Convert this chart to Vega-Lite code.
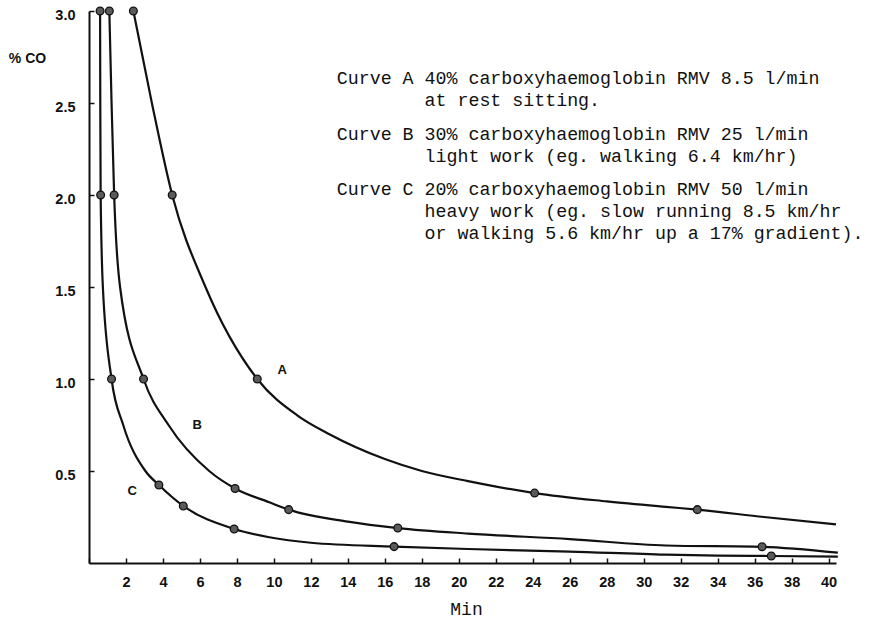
{
  "$schema": "https://vega.github.io/schema/vega-lite/v6.json",
  "width": 747,
  "height": 552,
  "autosize": {"type": "none"},
  "padding": {"left": 89, "top": 11, "right": 39, "bottom": 56},
  "background": "white",
  "config": {
    "view": {"stroke": null},
    "axis": {
      "grid": false,
      "domainColor": "#111",
      "domainWidth": 2,
      "tickColor": "#111",
      "tickWidth": 1.5,
      "tickSize": -5,
      "labelFont": "Liberation Sans",
      "labelFontWeight": "bold",
      "labelFontSize": 14.5,
      "labelColor": "#111",
      "titleColor": "#111"
    }
  },
  "datasets": {
    "curves": [
      {"curve": "A", "min": 2.4, "co": 3.0},
      {"curve": "A", "min": 3.4, "co": 2.5},
      {"curve": "A", "min": 4.5, "co": 2.0},
      {"curve": "A", "min": 6.3, "co": 1.5},
      {"curve": "A", "min": 9.1, "co": 1.0},
      {"curve": "A", "min": 11.3, "co": 0.8},
      {"curve": "A", "min": 13.0, "co": 0.7},
      {"curve": "A", "min": 16.0, "co": 0.565},
      {"curve": "A", "min": 18.0, "co": 0.5},
      {"curve": "A", "min": 20.5, "co": 0.445},
      {"curve": "A", "min": 24.1, "co": 0.38},
      {"curve": "A", "min": 28.0, "co": 0.335},
      {"curve": "A", "min": 31.2, "co": 0.305},
      {"curve": "A", "min": 32.9, "co": 0.29},
      {"curve": "A", "min": 36.5, "co": 0.25},
      {"curve": "A", "min": 40.4, "co": 0.21},
      {"curve": "B", "min": 1.1, "co": 3.0},
      {"curve": "B", "min": 1.22, "co": 2.5},
      {"curve": "B", "min": 1.36, "co": 2.0},
      {"curve": "B", "min": 1.68, "co": 1.5},
      {"curve": "B", "min": 2.95, "co": 1.0},
      {"curve": "B", "min": 4.3, "co": 0.75},
      {"curve": "B", "min": 6.5, "co": 0.5},
      {"curve": "B", "min": 7.9, "co": 0.405},
      {"curve": "B", "min": 9.75, "co": 0.33},
      {"curve": "B", "min": 10.8, "co": 0.29},
      {"curve": "B", "min": 14.0, "co": 0.225},
      {"curve": "B", "min": 16.7, "co": 0.19},
      {"curve": "B", "min": 20.5, "co": 0.16},
      {"curve": "B", "min": 26.0, "co": 0.13},
      {"curve": "B", "min": 31.2, "co": 0.095},
      {"curve": "B", "min": 36.4, "co": 0.088},
      {"curve": "B", "min": 40.5, "co": 0.056},
      {"curve": "C", "min": 0.6, "co": 3.0},
      {"curve": "C", "min": 0.61, "co": 2.5},
      {"curve": "C", "min": 0.63, "co": 2.0},
      {"curve": "C", "min": 0.75, "co": 1.5},
      {"curve": "C", "min": 1.22, "co": 1.0},
      {"curve": "C", "min": 1.85, "co": 0.75},
      {"curve": "C", "min": 3.05, "co": 0.5},
      {"curve": "C", "min": 3.78, "co": 0.424},
      {"curve": "C", "min": 5.1, "co": 0.31},
      {"curve": "C", "min": 7.85, "co": 0.185},
      {"curve": "C", "min": 9.75, "co": 0.14},
      {"curve": "C", "min": 12.0, "co": 0.11},
      {"curve": "C", "min": 16.5, "co": 0.089},
      {"curve": "C", "min": 20.5, "co": 0.076},
      {"curve": "C", "min": 26.0, "co": 0.062},
      {"curve": "C", "min": 31.2, "co": 0.045},
      {"curve": "C", "min": 34.0, "co": 0.04},
      {"curve": "C", "min": 36.9, "co": 0.038},
      {"curve": "C", "min": 40.5, "co": 0.035}
    ],
    "markers": [
      {"curve": "A", "min": 2.4, "co": 3.0},
      {"curve": "A", "min": 4.5, "co": 2.0},
      {"curve": "A", "min": 9.1, "co": 1.0},
      {"curve": "A", "min": 24.1, "co": 0.38},
      {"curve": "A", "min": 32.9, "co": 0.29},
      {"curve": "B", "min": 1.1, "co": 3.0},
      {"curve": "B", "min": 1.36, "co": 2.0},
      {"curve": "B", "min": 2.95, "co": 1.0},
      {"curve": "B", "min": 7.9, "co": 0.405},
      {"curve": "B", "min": 10.8, "co": 0.29},
      {"curve": "B", "min": 16.7, "co": 0.19},
      {"curve": "B", "min": 36.4, "co": 0.088},
      {"curve": "C", "min": 0.6, "co": 3.0},
      {"curve": "C", "min": 0.63, "co": 2.0},
      {"curve": "C", "min": 1.22, "co": 1.0},
      {"curve": "C", "min": 3.78, "co": 0.424},
      {"curve": "C", "min": 5.1, "co": 0.31},
      {"curve": "C", "min": 7.85, "co": 0.185},
      {"curve": "C", "min": 16.5, "co": 0.089},
      {"curve": "C", "min": 36.9, "co": 0.038}
    ],
    "curveLabels": [
      {"label": "A", "min": 10.45, "co": 1.05},
      {"label": "B", "min": 5.85, "co": 0.75},
      {"label": "C", "min": 2.34, "co": 0.39}
    ],
    "legend": [
      {"curve": "A", "text": ["Curve A 40% carboxyhaemoglobin RMV 8.5 l/min", "\u200b\u00a0\u00a0\u00a0\u00a0\u00a0\u00a0\u00a0\u00a0at rest sitting."]},
      {"curve": "B", "text": ["Curve B 30% carboxyhaemoglobin RMV 25 l/min", "\u200b\u00a0\u00a0\u00a0\u00a0\u00a0\u00a0\u00a0\u00a0light work (eg. walking 6.4 km/hr)"]},
      {"curve": "C", "text": ["Curve C 20% carboxyhaemoglobin RMV 50 l/min", "\u200b\u00a0\u00a0\u00a0\u00a0\u00a0\u00a0\u00a0\u00a0heavy work (eg. slow running 8.5 km/hr", "\u200b\u00a0\u00a0\u00a0\u00a0\u00a0\u00a0\u00a0\u00a0or walking 5.6 km/hr up a 17% gradient)."]}
    ]
  },
  "layer": [
    {
      "data": {"name": "curves"},
      "mark": {"type": "line", "color": "#111", "strokeWidth": 2.2, "interpolate": "monotone"},
      "encoding": {
        "x": {
          "field": "min", "type": "quantitative",
          "scale": {"domain": [0, 40.4], "nice": false, "zero": false},
          "axis": {
            "tickCount": 20,
            "labelExpr": "datum.value === 0 ? '' : datum.label",
            "labelOverlap": false,
            "labelPadding": 17,
            "title": "Min",
            "titleFont": "Liberation Mono",
            "titleFontSize": 18,
            "titleFontWeight": "normal",
            "titleX": 377,
            "titleY": 46,
            "titleAlign": "center",
            "titleBaseline": "middle"
          }
        },
        "y": {
          "field": "co", "type": "quantitative",
          "scale": {"domain": [0, 3], "nice": false},
          "axis": {
            "values": [0.5, 1.0, 1.5, 2.0, 2.5, 3.0],
            "format": ".1f",
            "labelPadding": 19,
            "labelOffset": 4,
            "title": "% CO",
            "titleAngle": 0,
            "titleFont": "Liberation Sans",
            "titleFontSize": 14,
            "titleFontWeight": "bold",
            "titleX": -62,
            "titleY": 47,
            "titleAlign": "center",
            "titleBaseline": "middle"
          }
        },
        "detail": {"field": "curve", "type": "nominal"}
      }
    },
    {
      "data": {"name": "markers"},
      "mark": {"type": "circle", "size": 60, "fill": "#5a5a5a", "stroke": "#111", "strokeWidth": 1.3, "opacity": 1},
      "encoding": {
        "x": {"field": "min", "type": "quantitative"},
        "y": {"field": "co", "type": "quantitative"}
      }
    },
    {
      "data": {"name": "curveLabels"},
      "mark": {"type": "text", "font": "Liberation Sans", "fontWeight": "bold", "fontSize": 13, "color": "#111"},
      "encoding": {
        "x": {"field": "min", "type": "quantitative"},
        "y": {"field": "co", "type": "quantitative"},
        "text": {"field": "label"}
      }
    },
    {
      "data": {"name": "legend"},
      "transform": [{"filter": "datum.curve === 'A'"}],
      "mark": {"type": "text", "font": "Liberation Mono", "fontSize": 18.3, "align": "left", "baseline": "top", "lineHeight": 22, "color": "#111"},
      "encoding": {
        "x": {"datum": 13.4, "type": "quantitative"},
        "y": {"datum": 2.681, "type": "quantitative"},
        "text": {"field": "text"}
      }
    },
    {
      "data": {"name": "legend"},
      "transform": [{"filter": "datum.curve === 'B'"}],
      "mark": {"type": "text", "font": "Liberation Mono", "fontSize": 18.3, "align": "left", "baseline": "top", "lineHeight": 22, "color": "#111"},
      "encoding": {
        "x": {"datum": 13.4, "type": "quantitative"},
        "y": {"datum": 2.375, "type": "quantitative"},
        "text": {"field": "text"}
      }
    },
    {
      "data": {"name": "legend"},
      "transform": [{"filter": "datum.curve === 'C'"}],
      "mark": {"type": "text", "font": "Liberation Mono", "fontSize": 18.3, "align": "left", "baseline": "top", "lineHeight": 22, "color": "#111"},
      "encoding": {
        "x": {"datum": 13.4, "type": "quantitative"},
        "y": {"datum": 2.074, "type": "quantitative"},
        "text": {"field": "text"}
      }
    }
  ]
}
